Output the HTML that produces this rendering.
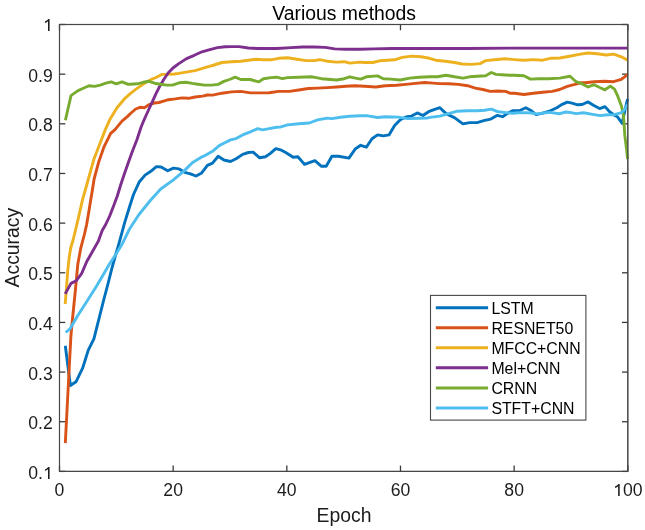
<!DOCTYPE html>
<html><head><meta charset="utf-8"><title>Various methods</title>
<style>
html,body{margin:0;padding:0;background:#fff;}
body{width:645px;height:530px;overflow:hidden;}
svg{display:block;font-family:"Liberation Sans", sans-serif;filter:blur(0.35px);}
</style></head>
<body>
<svg width="645" height="530" viewBox="0 0 645 530">
<rect width="645" height="530" fill="#fff"/>
<rect x="59.50" y="24.50" width="568.30" height="446.90" fill="#fff" stroke="#474747" stroke-width="1.1"/>
<line x1="59.50" y1="471.40" x2="59.50" y2="465.60" stroke="#3a3a3a" stroke-width="1.3"/>
<line x1="59.50" y1="24.50" x2="59.50" y2="30.30" stroke="#3a3a3a" stroke-width="1.3"/>
<line x1="173.16" y1="471.40" x2="173.16" y2="465.60" stroke="#3a3a3a" stroke-width="1.3"/>
<line x1="173.16" y1="24.50" x2="173.16" y2="30.30" stroke="#3a3a3a" stroke-width="1.3"/>
<line x1="286.82" y1="471.40" x2="286.82" y2="465.60" stroke="#3a3a3a" stroke-width="1.3"/>
<line x1="286.82" y1="24.50" x2="286.82" y2="30.30" stroke="#3a3a3a" stroke-width="1.3"/>
<line x1="400.48" y1="471.40" x2="400.48" y2="465.60" stroke="#3a3a3a" stroke-width="1.3"/>
<line x1="400.48" y1="24.50" x2="400.48" y2="30.30" stroke="#3a3a3a" stroke-width="1.3"/>
<line x1="514.14" y1="471.40" x2="514.14" y2="465.60" stroke="#3a3a3a" stroke-width="1.3"/>
<line x1="514.14" y1="24.50" x2="514.14" y2="30.30" stroke="#3a3a3a" stroke-width="1.3"/>
<line x1="627.80" y1="471.40" x2="627.80" y2="465.60" stroke="#3a3a3a" stroke-width="1.3"/>
<line x1="627.80" y1="24.50" x2="627.80" y2="30.30" stroke="#3a3a3a" stroke-width="1.3"/>
<line x1="59.50" y1="471.40" x2="65.30" y2="471.40" stroke="#3a3a3a" stroke-width="1.3"/>
<line x1="627.80" y1="471.40" x2="622.00" y2="471.40" stroke="#3a3a3a" stroke-width="1.3"/>
<line x1="59.50" y1="421.74" x2="65.30" y2="421.74" stroke="#3a3a3a" stroke-width="1.3"/>
<line x1="627.80" y1="421.74" x2="622.00" y2="421.74" stroke="#3a3a3a" stroke-width="1.3"/>
<line x1="59.50" y1="372.09" x2="65.30" y2="372.09" stroke="#3a3a3a" stroke-width="1.3"/>
<line x1="627.80" y1="372.09" x2="622.00" y2="372.09" stroke="#3a3a3a" stroke-width="1.3"/>
<line x1="59.50" y1="322.43" x2="65.30" y2="322.43" stroke="#3a3a3a" stroke-width="1.3"/>
<line x1="627.80" y1="322.43" x2="622.00" y2="322.43" stroke="#3a3a3a" stroke-width="1.3"/>
<line x1="59.50" y1="272.78" x2="65.30" y2="272.78" stroke="#3a3a3a" stroke-width="1.3"/>
<line x1="627.80" y1="272.78" x2="622.00" y2="272.78" stroke="#3a3a3a" stroke-width="1.3"/>
<line x1="59.50" y1="223.12" x2="65.30" y2="223.12" stroke="#3a3a3a" stroke-width="1.3"/>
<line x1="627.80" y1="223.12" x2="622.00" y2="223.12" stroke="#3a3a3a" stroke-width="1.3"/>
<line x1="59.50" y1="173.47" x2="65.30" y2="173.47" stroke="#3a3a3a" stroke-width="1.3"/>
<line x1="627.80" y1="173.47" x2="622.00" y2="173.47" stroke="#3a3a3a" stroke-width="1.3"/>
<line x1="59.50" y1="123.81" x2="65.30" y2="123.81" stroke="#3a3a3a" stroke-width="1.3"/>
<line x1="627.80" y1="123.81" x2="622.00" y2="123.81" stroke="#3a3a3a" stroke-width="1.3"/>
<line x1="59.50" y1="74.16" x2="65.30" y2="74.16" stroke="#3a3a3a" stroke-width="1.3"/>
<line x1="627.80" y1="74.16" x2="622.00" y2="74.16" stroke="#3a3a3a" stroke-width="1.3"/>
<line x1="59.50" y1="24.50" x2="65.30" y2="24.50" stroke="#3a3a3a" stroke-width="1.3"/>
<line x1="627.80" y1="24.50" x2="622.00" y2="24.50" stroke="#3a3a3a" stroke-width="1.3"/>
<polyline points="65.3,345.8 70.4,385.5 76.0,381.8 82.6,368.2 88.3,350.1 93.9,338.8 98.5,320.7 103.7,300.0 108.2,283.0 111.6,269.4 115.0,257.0 119.0,243.4 124.8,222.1 129.5,207.0 133.5,194.5 139.4,181.7 145.1,175.1 150.8,171.3 156.4,166.6 161.1,167.0 167.7,170.8 173.4,168.1 179.1,168.9 184.7,172.3 190.4,173.8 196.0,176.0 201.7,172.9 207.4,165.3 212.5,163.1 218.2,156.3 223.9,160.0 230.5,161.5 236.1,158.7 242.7,154.4 248.4,152.5 253.1,152.1 259.7,157.8 265.4,156.8 270.1,153.6 275.8,148.7 281.4,150.2 285.7,152.5 293.2,157.2 297.9,156.8 304.5,164.4 314.9,160.6 321.5,166.3 326.2,166.3 331.9,156.3 338.5,156.3 348.9,158.1 355.5,148.7 360.7,145.3 366.3,147.2 372.0,138.7 377.6,134.9 383.3,135.9 389.0,134.9 394.6,125.5 400.3,119.8 405.9,117.0 411.6,116.1 417.3,112.9 422.9,115.5 428.6,111.7 434.0,109.6 439.9,107.7 446.1,113.6 454.8,117.9 462.9,123.9 469.7,122.6 477.1,122.6 484.6,120.4 490.8,119.1 497.0,115.4 502.6,116.7 507.5,113.4 512.5,110.8 519.2,110.8 525.8,107.8 531.4,110.8 536.1,114.6 542.7,113.1 550.3,110.8 556.9,107.8 561.6,104.6 567.3,102.1 572.0,103.2 577.6,104.8 582.1,104.5 588.1,101.9 593.4,105.2 599.6,108.6 605.0,106.6 609.6,111.8 614.5,115.3 617.3,116.7 622.2,123.4 624.8,110.9 627.6,99.0" fill="none" stroke="#0072BD" stroke-width="2.90" stroke-linejoin="round" stroke-linecap="butt"/>
<polyline points="65.3,443.2 68.6,380.0 70.9,336.0 72.3,321.0 75.6,288.0 77.8,264.2 80.9,247.6 84.5,234.0 86.6,224.7 88.6,213.0 90.8,199.4 92.4,190.0 94.1,179.0 98.8,161.7 104.1,146.6 110.7,133.4 115.0,129.6 122.0,121.1 127.6,116.4 130.5,113.5 135.7,109.0 140.0,107.3 144.7,107.7 148.5,104.9 154.2,103.0 158.9,102.5 163.6,101.1 168.3,99.7 175.3,98.9 181.9,97.9 188.5,98.3 195.1,97.0 202.6,96.1 207.5,95.0 212.5,95.1 222.0,93.2 231.4,91.9 240.8,91.4 250.3,92.9 259.7,92.9 269.2,92.7 278.6,91.4 289.4,91.4 298.9,90.0 308.3,88.5 317.7,88.1 327.2,87.6 336.6,87.0 346.0,86.3 355.0,85.7 364.4,86.3 375.8,87.0 385.2,85.7 396.5,85.3 405.9,84.4 415.4,83.4 424.8,82.5 430.0,82.9 439.4,83.6 448.9,83.8 458.3,84.4 467.7,85.7 475.3,88.1 482.8,89.5 490.4,91.4 497.9,91.0 505.5,91.4 510.0,93.2 514.4,93.2 523.9,94.5 533.3,93.2 542.7,92.3 552.2,91.4 559.7,89.5 567.3,86.3 574.8,84.4 580.5,82.8 585.1,82.7 594.1,81.7 604.7,81.2 613.7,81.7 621.3,79.4 627.6,74.6" fill="none" stroke="#D95319" stroke-width="2.90" stroke-linejoin="round" stroke-linecap="butt"/>
<polyline points="65.2,304.0 66.3,290.2 67.8,270.2 69.3,256.6 70.8,247.5 73.1,240.0 78.3,218.3 82.6,199.4 85.6,189.0 93.7,159.8 105.0,130.4 109.7,119.8 117.0,107.8 125.0,98.3 130.0,93.8 135.7,89.4 140.0,86.4 145.7,82.6 151.3,79.4 156.0,77.5 161.7,74.4 167.7,74.4 174.3,74.0 178.8,73.4 187.5,71.9 195.1,70.6 201.7,68.7 206.5,67.1 212.5,65.5 222.0,62.5 231.4,61.7 240.8,61.2 248.4,60.2 255.9,59.3 263.5,59.8 271.0,59.8 278.6,58.3 287.5,57.8 297.0,59.3 306.4,60.6 314.0,60.6 319.6,59.7 327.2,61.2 336.6,62.1 344.2,61.7 349.8,63.1 360.0,62.1 364.4,62.5 372.9,62.5 379.5,60.8 387.1,60.2 394.6,59.8 402.2,57.4 411.6,56.1 421.0,56.8 429.5,58.3 435.7,60.2 445.1,61.2 454.5,62.5 462.1,64.0 471.5,64.4 480.0,63.6 485.7,60.6 494.2,59.8 505.0,58.8 514.4,59.6 523.9,60.2 533.3,59.6 542.7,60.2 550.3,58.3 559.7,58.0 569.6,56.2 579.0,54.4 588.1,53.0 597.1,53.8 606.2,55.0 613.7,54.1 621.3,56.8 627.6,60.1" fill="none" stroke="#EDB120" stroke-width="2.90" stroke-linejoin="round" stroke-linecap="butt"/>
<polyline points="65.2,293.9 71.0,283.4 76.3,280.7 81.6,273.6 86.9,261.2 92.2,252.0 98.2,241.4 102.2,230.5 105.7,224.5 109.7,216.0 113.0,207.5 117.3,196.0 120.8,184.5 124.5,173.5 128.7,161.5 132.8,150.2 137.0,139.5 141.1,127.0 143.8,120.5 148.5,110.0 152.3,101.8 156.0,93.6 159.8,86.2 163.6,79.8 168.3,72.8 173.0,68.0 178.8,63.6 186.5,58.6 194.3,55.3 202.0,51.8 209.8,49.6 217.5,47.6 225.3,46.8 232.0,46.6 239.0,46.6 248.4,48.0 257.8,48.5 267.3,48.5 276.7,48.5 291.3,47.6 302.6,47.0 314.0,47.0 325.3,47.4 334.7,48.9 346.0,49.3 360.0,49.3 373.9,48.9 392.7,48.5 411.6,48.5 467.7,48.5 510.0,48.1 627.6,48.1" fill="none" stroke="#7E2F8E" stroke-width="2.90" stroke-linejoin="round" stroke-linecap="butt"/>
<polyline points="65.4,120.2 71.0,95.6 77.6,90.9 83.3,88.3 89.0,85.7 94.6,86.4 100.3,85.1 105.9,83.2 111.2,81.9 116.3,83.8 122.0,81.9 127.6,84.2 130.0,84.2 137.5,83.8 143.2,82.3 148.9,81.3 154.5,83.2 160.2,84.2 166.8,85.1 172.5,85.1 179.1,82.8 185.7,82.3 192.3,83.4 197.9,84.2 204.5,85.1 211.6,85.1 218.2,84.4 223.9,81.4 229.5,79.5 235.2,77.2 240.8,79.5 250.3,79.5 258.8,81.9 263.5,78.7 271.0,77.6 276.7,77.2 282.4,78.7 287.5,77.6 298.9,77.2 312.1,76.8 321.5,78.7 336.6,80.0 344.2,78.7 349.8,76.8 355.5,78.1 360.7,79.1 366.3,76.8 377.6,75.9 383.3,78.7 390.8,79.1 400.3,80.0 409.7,78.1 419.2,77.2 430.0,76.8 437.5,76.8 446.0,75.3 454.5,76.8 463.0,78.1 469.6,76.8 477.2,76.3 485.7,75.7 491.3,72.5 496.0,74.4 501.7,74.8 510.0,75.3 514.4,75.3 523.9,75.7 530.5,79.1 539.0,78.7 548.4,78.7 559.7,78.1 570.1,76.3 576.0,81.7 582.1,83.9 588.1,87.0 594.1,84.7 599.7,87.5 604.9,89.8 610.4,86.1 614.5,89.1 617.5,95.6 621.5,106.2 623.5,115.4 624.8,135.2 626.8,151.1 627.6,159.1" fill="none" stroke="#77AC30" stroke-width="2.90" stroke-linejoin="round" stroke-linecap="butt"/>
<polyline points="65.7,332.5 70.2,328.6 78.1,315.0 86.0,302.8 89.0,298.0 96.3,286.4 103.1,275.1 109.3,264.3 115.6,254.7 122.5,243.4 129.5,229.0 139.0,214.5 150.3,200.5 160.7,189.0 173.4,179.8 184.7,170.4 192.3,162.8 201.7,156.9 205.0,155.6 212.5,151.3 219.2,145.6 224.8,142.8 230.5,139.9 236.1,138.6 242.7,134.9 250.3,131.8 257.8,128.6 262.5,129.9 269.2,128.6 276.7,127.3 280.0,127.1 287.5,124.9 298.9,123.7 309.2,123.0 317.7,119.9 327.2,118.1 331.9,118.6 340.4,117.3 349.8,116.2 360.0,115.8 366.3,115.6 377.6,117.5 385.2,116.7 398.4,117.1 407.8,118.6 419.2,118.2 426.7,118.1 430.0,117.4 439.9,116.1 448.6,113.7 457.3,111.2 467.2,110.8 477.1,110.8 484.6,110.3 491.4,109.1 498.2,111.8 505.7,112.6 512.4,113.3 518.5,112.8 524.8,112.6 531.0,113.0 537.2,113.9 543.5,113.0 549.6,112.4 559.6,113.7 565.8,112.0 571.0,112.6 576.0,113.6 583.6,112.8 592.6,114.4 600.2,115.6 607.7,114.7 612.9,114.9 620.9,112.9 624.8,109.5 627.6,104.2" fill="none" stroke="#4DBEEE" stroke-width="2.90" stroke-linejoin="round" stroke-linecap="butt"/>
<rect x="59.50" y="24.50" width="568.30" height="446.90" fill="none" stroke="#474747" stroke-width="1.1"/>
<text x="54.61" y="496.10" font-size="17.6" fill="#1c1c1c">0</text>
<text x="163.37" y="496.10" font-size="17.6" fill="#1c1c1c">20</text>
<text x="277.03" y="496.10" font-size="17.6" fill="#1c1c1c">40</text>
<text x="390.69" y="496.10" font-size="17.6" fill="#1c1c1c">60</text>
<text x="504.35" y="496.10" font-size="17.6" fill="#1c1c1c">80</text>
<path d="M583,0L583,1150L540,1110L470,1060L380,1010L300,975L223,945L223,1115L330,1165L430,1230L520,1305L585,1375L612,1409L763,1409L763,0Z" fill="#1c1c1c" transform="translate(613.12,496.10) scale(0.00859,-0.00859)"/>
<text x="622.91" y="496.10" font-size="17.6" fill="#1c1c1c">00</text>
<text x="28.33" y="479.00" font-size="17.6" fill="#1c1c1c">0.</text>
<path d="M583,0L583,1150L540,1110L470,1060L380,1010L300,975L223,945L223,1115L330,1165L430,1230L520,1305L585,1375L612,1409L763,1409L763,0Z" fill="#1c1c1c" transform="translate(43.01,479.00) scale(0.00859,-0.00859)"/>
<text x="28.33" y="429.34" font-size="17.6" fill="#1c1c1c">0.2</text>
<text x="28.33" y="379.69" font-size="17.6" fill="#1c1c1c">0.3</text>
<text x="28.33" y="330.03" font-size="17.6" fill="#1c1c1c">0.4</text>
<text x="28.33" y="280.38" font-size="17.6" fill="#1c1c1c">0.5</text>
<text x="28.33" y="230.72" font-size="17.6" fill="#1c1c1c">0.6</text>
<text x="28.33" y="181.07" font-size="17.6" fill="#1c1c1c">0.7</text>
<text x="28.33" y="131.41" font-size="17.6" fill="#1c1c1c">0.8</text>
<text x="28.33" y="81.76" font-size="17.6" fill="#1c1c1c">0.9</text>
<path d="M583,0L583,1150L540,1110L470,1060L380,1010L300,975L223,945L223,1115L330,1165L430,1230L520,1305L585,1375L612,1409L763,1409L763,0Z" fill="#1c1c1c" transform="translate(43.01,31.10) scale(0.00859,-0.00859)"/>
<text x="344.0" y="522.1" text-anchor="middle" font-size="19.36" fill="#1c1c1c">Epoch</text>
<text transform="translate(18.6,247.65) rotate(-90)" x="0" y="0" text-anchor="middle" font-size="19.36" fill="#1c1c1c">Accuracy</text>
<text x="344.15" y="19.9" text-anchor="middle" font-size="19.36" fill="#000">Various methods</text>
<rect x="430.50" y="295.40" width="155.40" height="124.70" fill="#fff" stroke="#474747" stroke-width="1.1"/>
<line x1="435.8" y1="307.70" x2="488.1" y2="307.70" stroke="#0072BD" stroke-width="3"/>
<text x="491.4" y="313.60" font-size="15.84" fill="#000">LSTM</text>
<line x1="435.8" y1="327.75" x2="488.1" y2="327.75" stroke="#D95319" stroke-width="3"/>
<text x="491.4" y="333.65" font-size="15.84" fill="#000">RESNET50</text>
<line x1="435.8" y1="347.80" x2="488.1" y2="347.80" stroke="#EDB120" stroke-width="3"/>
<text x="491.4" y="353.70" font-size="15.84" fill="#000">MFCC+CNN</text>
<line x1="435.8" y1="367.85" x2="488.1" y2="367.85" stroke="#7E2F8E" stroke-width="3"/>
<text x="491.4" y="373.75" font-size="15.84" fill="#000">Mel+CNN</text>
<line x1="435.8" y1="387.90" x2="488.1" y2="387.90" stroke="#77AC30" stroke-width="3"/>
<text x="491.4" y="393.80" font-size="15.84" fill="#000">CRNN</text>
<line x1="435.8" y1="407.95" x2="488.1" y2="407.95" stroke="#4DBEEE" stroke-width="3"/>
<text x="491.4" y="413.85" font-size="15.84" fill="#000">STFT+CNN</text>
</svg>
</body></html>
